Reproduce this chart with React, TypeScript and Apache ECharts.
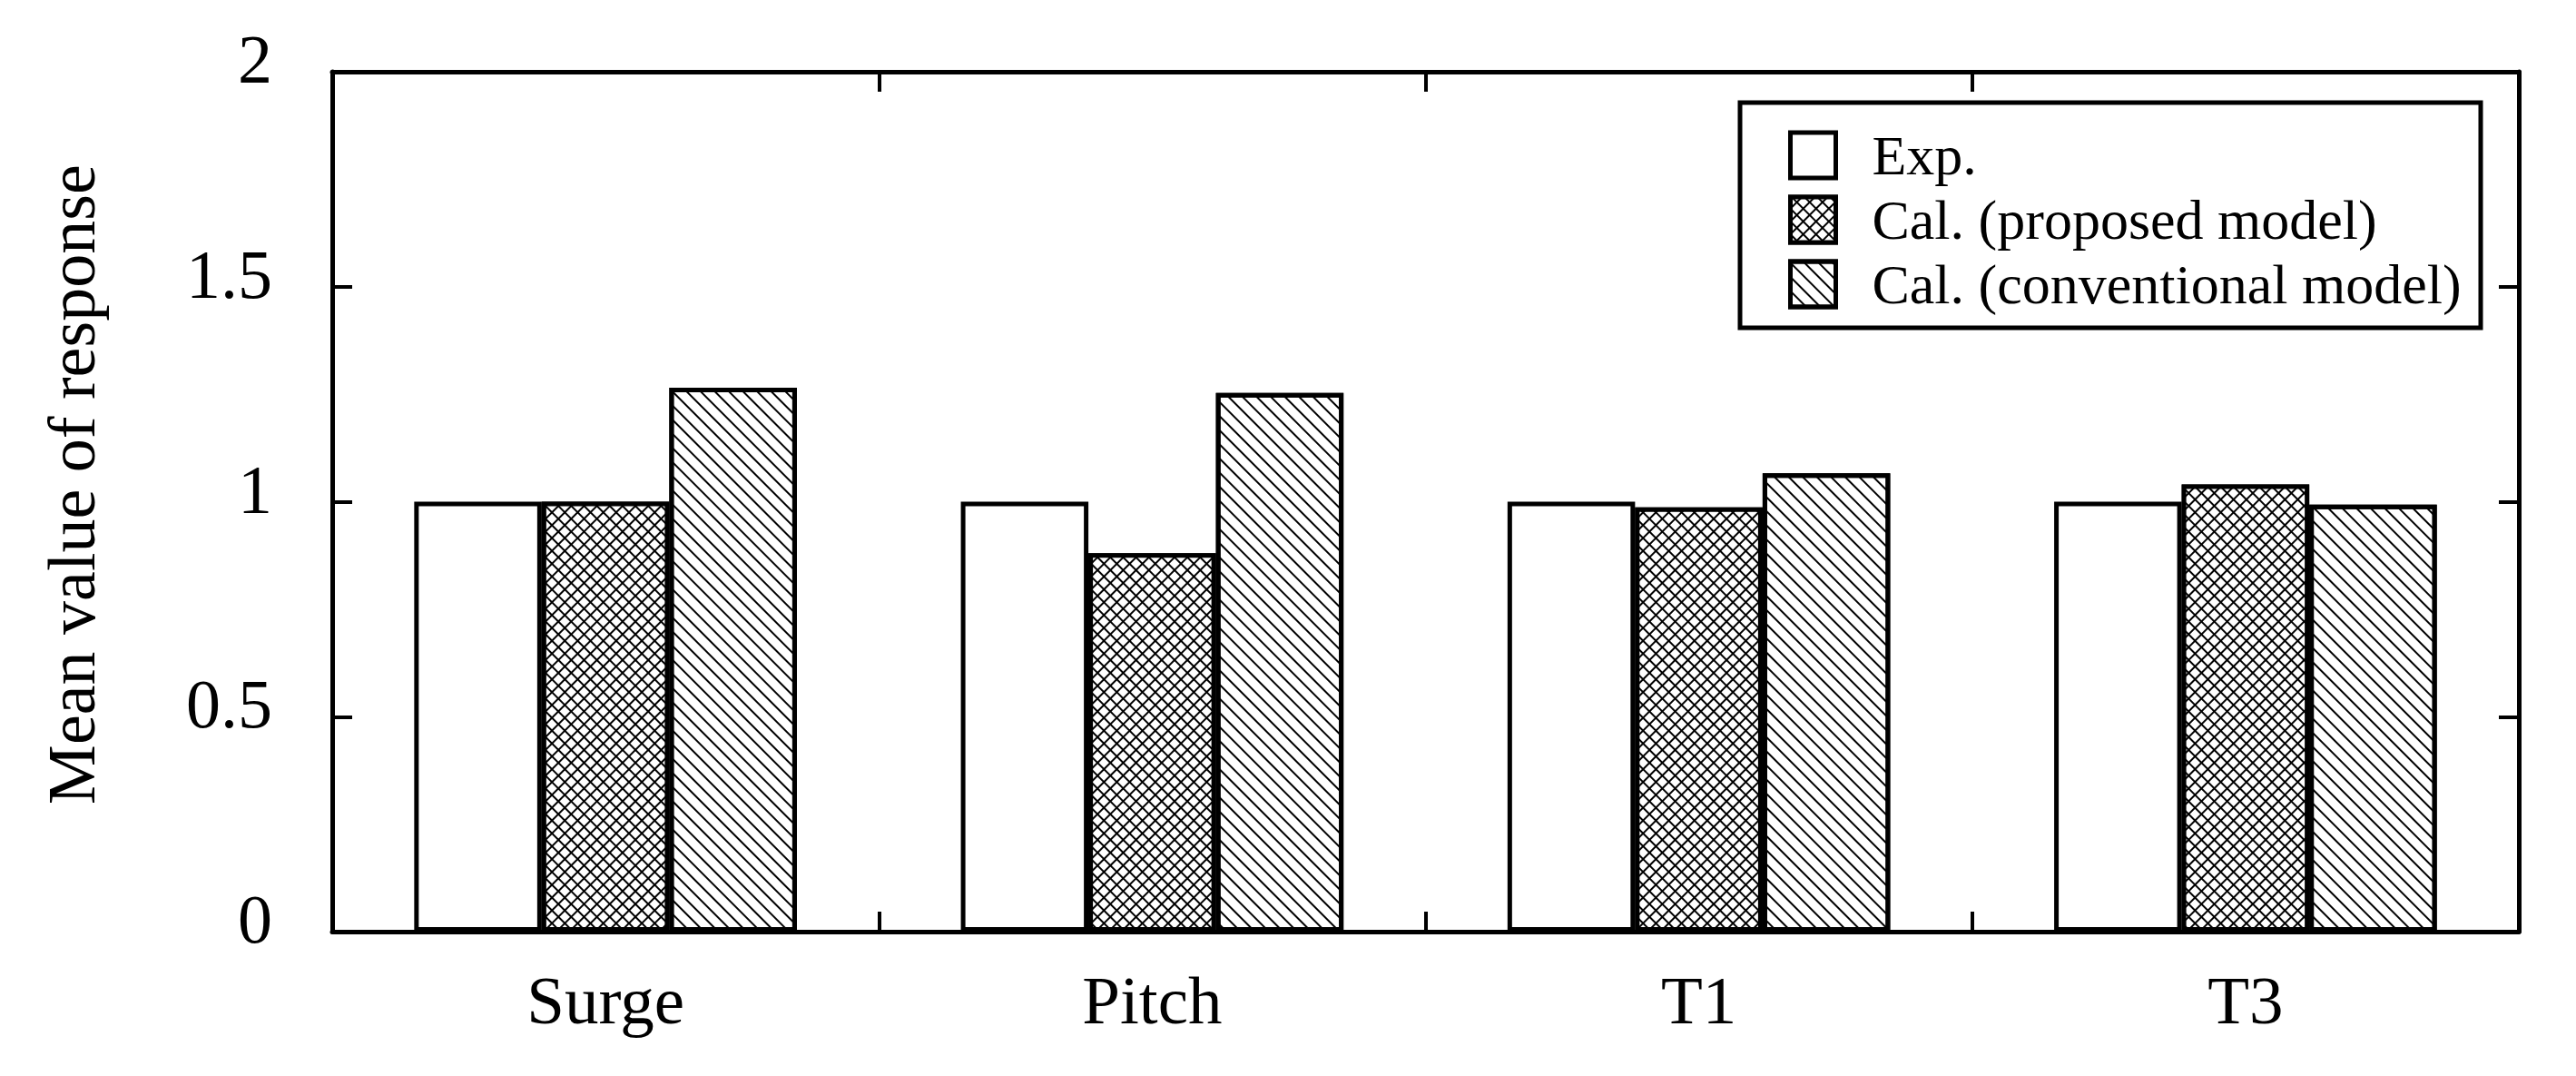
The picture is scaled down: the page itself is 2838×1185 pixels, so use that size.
import React, { useEffect, useRef } from "react";
import * as echarts from "echarts";

const categories = ["Surge", "Pitch", "T1", "T3"];
const seriesNames = ["Exp.", "Cal. (proposed model)", "Cal. (conventional model)"];
const expValues = [1.0, 1.0, 1.0, 1.0];
const proposedValues = [1.0, 0.88, 0.987, 1.04];
const conventionalValues = [1.265, 1.253, 1.066, 0.993];
const yMin = 0;
const yMax = 2;
const yInterval = 0.5;

const FONT = "'Liberation Serif', 'Times New Roman', serif";

export default function App() {
  const ref = useRef<HTMLDivElement>(null);

  useEffect(() => {
    if (!ref.current) return;
    const chart = echarts.init(ref.current, null, { renderer: "svg" });

    const crossDecal = {
      symbol: "rect",
      symbolSize: 1,
      color: "#ffffff",
      dashArrayX: [8, 2],
      dashArrayY: [8, 2],
      rotation: Math.PI / 4,
    };
    const lineDecal = {
      symbol: "rect",
      symbolSize: 1,
      color: "#000000",
      dashArrayX: [1, 0],
      dashArrayY: [2, 9],
      rotation: Math.PI / 4,
    };

    const barBase = {
      type: "bar",
      barGap: "0%",
      barCategoryGap: "30%",
      xAxisIndex: 0,
      yAxisIndex: 0,
    };

    const tickStyle = { show: true, inside: true, length: 22, lineStyle: { color: "#000", width: 4 } };
    const lineStyle = { show: true, onZero: false, lineStyle: { color: "#000", width: 5 } };

    const option: any = {
      animation: false,
      backgroundColor: "#ffffff",
      textStyle: { fontFamily: FONT, color: "#000" },
      grid: { left: 366, right: 63, top: 79, bottom: 159, containLabel: false },
      legend: {
        show: true,
        orient: "vertical",
        left: 1970,
        top: 138,
        padding: 0,
        icon: "rect",
        itemWidth: 50,
        itemHeight: 50,
        itemGap: 5,
        data: seriesNames,
        itemStyle: { borderColor: "#000", borderWidth: 5 },
        textStyle: {
          fontFamily: FONT,
          fontSize: 62,
          color: "#000",
          lineHeight: 50,
          padding: [16, 0, 0, 35],
        },
      },
      graphic: [
        {
          type: "rect",
          shape: { x: 1917, y: 113, width: 816, height: 248 },
          style: { fill: "none", stroke: "#000", lineWidth: 5 },
          silent: true,
          z: 10,
        },
      ],
      xAxis: [
        {
          type: "category",
          data: categories,
          position: "bottom",
          boundaryGap: true,
          axisLine: lineStyle,
          axisTick: tickStyle,
          axisLabel: {
            show: true,
            margin: 38,
            fontFamily: FONT,
            fontSize: 75,
            color: "#000",
          },
          splitLine: { show: false },
        },
        {
          type: "category",
          data: categories,
          position: "top",
          boundaryGap: true,
          axisLine: lineStyle,
          axisTick: tickStyle,
          axisLabel: { show: false },
          splitLine: { show: false },
        },
      ],
      yAxis: [
        {
          type: "value",
          min: yMin,
          max: yMax,
          interval: yInterval,
          position: "left",
          name: "Mean value of response",
          nameLocation: "middle",
          nameGap: 250,
          nameRotate: 90,
          nameTextStyle: {
            fontFamily: FONT,
            fontSize: 74,
            color: "#000",
            padding: [0, 0, 0, 38],
          },
          axisLine: lineStyle,
          axisTick: tickStyle,
          axisLabel: {
            show: true,
            margin: 66,
            fontFamily: FONT,
            fontSize: 76,
            color: "#000",
            verticalAlign: "bottom",
            lineHeight: 28,
          },
          splitLine: { show: false },
        },
        {
          type: "value",
          min: yMin,
          max: yMax,
          interval: yInterval,
          position: "right",
          axisLine: lineStyle,
          axisTick: tickStyle,
          axisLabel: { show: false },
          splitLine: { show: false },
        },
      ],
      series: [
        {
          ...barBase,
          name: seriesNames[0],
          data: expValues,
          itemStyle: { color: "#ffffff", borderColor: "#000", borderWidth: 5 },
        },
        {
          ...barBase,
          name: seriesNames[1],
          data: proposedValues,
          itemStyle: { color: "#000000", borderColor: "#000", borderWidth: 5, decal: crossDecal },
        },
        {
          ...barBase,
          name: seriesNames[2],
          data: conventionalValues,
          itemStyle: { color: "#ffffff", borderColor: "#000", borderWidth: 5, decal: lineDecal },
        },
      ],
    };

    chart.setOption(option);
    return () => {
      chart.dispose();
    };
  }, []);

  return (
    <div
      ref={ref}
      style={{ position: "fixed", left: 0, top: 0, width: 2838, height: 1185, background: "#fff" }}
    />
  );
}
